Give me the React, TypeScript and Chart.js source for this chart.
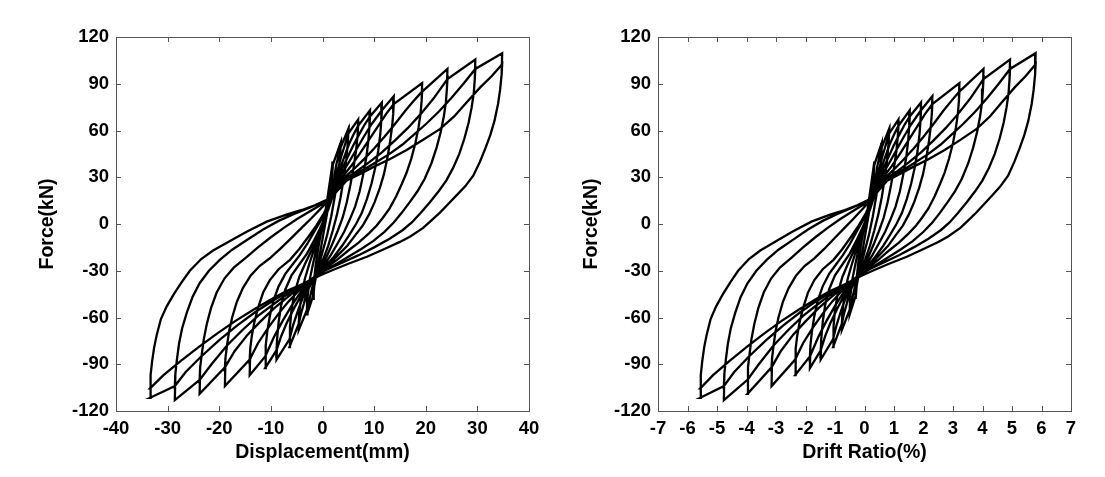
import React, { useEffect, useRef } from "react";
import { Chart, registerables } from "chart.js";
Chart.register(...registerables);

type Pt = [number, number];

// ---- Peak points per loading level (displacement mm, force kN) ----
const posPeak1: Pt[] = [[2.0, 40], [3.5, 52], [5.0, 61], [6.9, 67], [9.2, 73], [11.5, 78], [13.8, 82], [19.3, 90.4], [24.2, 99.5], [29.6, 105.5], [34.8, 109.6]];
const posPeak2: Pt[] = [[2.0, 38], [3.5, 49], [5.0, 58], [6.9, 63], [9.2, 69], [11.5, 73], [13.8, 77], [19.3, 85], [24.2, 93], [29.6, 99.5], [34.8, 102.5]];
const negPeak1: Pt[] = [[-1.8, -48], [-3.0, -58], [-4.6, -68], [-6.4, -79], [-8.9, -87], [-11.1, -92.5], [-14.1, -97], [-18.9, -104], [-23.8, -109], [-28.6, -113], [-33.4, -111.5]];
const negPeak2: Pt[] = [[-1.8, -46], [-3.0, -55], [-4.6, -64], [-6.4, -74], [-8.9, -81], [-11.1, -85], [-14.1, -87], [-18.9, -92], [-23.8, -100], [-28.6, -104], [-33.4, -105.5]];

// ---- Unloading from positive peak down to the negative pinch ----
const unloadPos1: Pt[] = [[1.9, 32], [1.5, 20], [0.9, 7], [0.2, -6], [-0.5, -19], [-1.1, -31], [-1.6, -40]];
const unloadPos2: Pt[] = [[3.4, 43], [3.0, 31], [2.4, 18], [1.7, 5], [0.9, -7], [0.0, -18], [-0.8, -28], [-1.5, -36], [-2.0, -41]];
const unloadPos3: Pt[] = [[4.9, 52], [4.6, 41], [4.1, 29], [3.5, 17], [2.8, 6], [2.0, -4], [1.1, -14], [0.1, -23], [-1.0, -31], [-2.0, -37], [-2.9, -43]];
const unloadPos4: Pt[] = [[6.8, 57], [6.5, 47], [6.0, 36], [5.4, 25], [4.7, 14], [3.9, 4], [3.0, -4], [2.0, -12], [0.8, -21], [-0.5, -29], [-1.7, -35], [-2.8, -40]];
const unloadPos5: Pt[] = [[9.1, 63], [8.9, 54], [8.5, 43], [7.9, 32], [7.2, 21], [6.3, 11], [5.3, 3], [4.2, -5], [3.0, -12], [1.6, -20], [0.2, -27], [-1.2, -33], [-2.4, -37.5], [-3.0, -40]];
const unloadPos6: Pt[] = [[11.4, 67], [11.2, 58], [10.8, 47], [10.2, 36], [9.5, 26], [8.6, 16], [7.6, 7], [6.5, 0], [5.2, -7], [3.8, -14], [2.2, -21], [0.6, -27], [-0.9, -32], [-2.2, -36], [-2.9, -38.5]];
const unloadPos7: Pt[] = [[13.7, 71], [13.5, 63], [13.1, 53], [12.6, 43], [11.9, 32], [11.1, 23], [10.1, 14], [9.0, 6], [7.8, -1], [6.4, -7], [4.8, -14], [3.0, -20], [1.2, -26], [-0.5, -31], [-2.0, -35], [-2.8, -38]];
const unloadPos8: Pt[] = [[19.2, 79], [19.0, 71], [18.6, 62], [18.0, 52], [17.2, 42], [16.3, 33], [15.4, 26], [14.3, 18], [13.0, 10], [11.7, 4], [10.5, -1], [9.0, -6], [7.0, -12], [5.0, -17], [2.8, -23], [0.8, -28], [-1.0, -32.5], [-2.4, -36]];
const unloadPos9: Pt[] = [[24.1, 87], [23.9, 78], [23.5, 69], [22.9, 59], [22.1, 49], [21.1, 39], [19.8, 29], [18.4, 21], [16.9, 14], [15.3, 7], [13.8, 1], [12.0, -5], [9.8, -11], [7.5, -16], [5.0, -21], [2.5, -26], [0.2, -30.5], [-1.5, -34], [-2.5, -36.5]];
const unloadPos10: Pt[] = [[29.5, 93], [29.3, 84], [28.9, 75], [28.3, 65], [27.5, 55], [26.5, 45], [25.3, 36], [24.0, 28], [22.5, 21], [20.8, 14], [19.0, 7], [17.3, 1], [15.5, -4], [13.0, -9.5], [10.0, -15], [7.0, -20], [4.0, -24.5], [1.0, -29], [-1.2, -33], [-2.4, -36]];
const unloadPos11: Pt[] = [[34.7, 96], [34.4, 86], [34.0, 77], [33.3, 66], [32.5, 57], [31.6, 49], [30.5, 40], [29.2, 31], [27.6, 24], [26.0, 18.5], [24.4, 13], [22.8, 7.5], [21.0, 2], [19.5, -2.5], [17.0, -8], [15.0, -11.5], [12.0, -16], [8.6, -21], [5.0, -25.5], [2.0, -29.5], [-0.5, -33], [-2.3, -36]];

// ---- Reloading from the negative pinch towards the negative peak ----
const reloadNeg1: Pt[] = [];
const reloadNeg2: Pt[] = [];
const reloadNeg3: Pt[] = [[-3.6, -51], [-4.2, -58]];
const reloadNeg4: Pt[] = [[-3.8, -47], [-4.8, -56], [-5.7, -65]];
const reloadNeg5: Pt[] = [[-4.0, -45], [-5.5, -54], [-7.0, -64], [-8.0, -72]];
const reloadNeg6: Pt[] = [[-4.3, -44], [-6.0, -52.5], [-7.7, -62], [-9.4, -72.5]];
const reloadNeg7: Pt[] = [[-4.5, -42.5], [-6.5, -49.5], [-8.5, -57.5], [-10.5, -66.5], [-12.5, -76.5]];
const reloadNeg8: Pt[] = [[-4.5, -41], [-7.0, -47.5], [-9.5, -54.5], [-12.0, -62.5], [-14.5, -71], [-17.0, -81.5]];
const reloadNeg9: Pt[] = [[-4.5, -40.5], [-7.0, -45.5], [-9.5, -51.5], [-12.5, -59], [-15.5, -68], [-18.5, -78], [-21.5, -90]];
const reloadNeg10: Pt[] = [[-4.5, -40], [-7.0, -44], [-10.0, -50], [-13.0, -56.5], [-16.5, -65], [-20.0, -74.5], [-23.5, -85], [-26.5, -95]];
const reloadNeg11: Pt[] = [[-4.5, -39.5], [-7.0, -43], [-10.0, -48.5], [-13.4, -55], [-17.0, -62.5], [-20.5, -70.5], [-24.0, -79], [-27.5, -88], [-30.8, -97]];

// ---- Unloading from negative peak up to the positive pinch ----
const unloadNeg1: Pt[] = [[-1.7, -38], [-1.3, -26], [-0.7, -13], [0.0, -1], [0.7, 11], [1.3, 22], [1.8, 31]];
const unloadNeg2: Pt[] = [[-2.9, -47], [-2.5, -36], [-1.8, -25], [-1.0, -13], [-0.1, -1], [0.8, 10], [1.6, 20], [2.3, 30]];
const unloadNeg3: Pt[] = [[-4.5, -57], [-4.1, -46], [-3.4, -35], [-2.5, -25], [-1.5, -15], [-0.5, -5], [0.5, 5], [1.3, 13], [2.0, 20]];
const unloadNeg4: Pt[] = [[-6.3, -66], [-6.0, -55], [-5.4, -44], [-4.5, -34], [-3.3, -25], [-2.0, -16], [-0.8, -7], [0.3, 2], [1.2, 10], [1.9, 17]];
const unloadNeg5: Pt[] = [[-8.8, -74], [-8.5, -63], [-8.0, -52], [-7.2, -42], [-6.0, -33], [-4.5, -26], [-3.0, -19], [-1.7, -11], [-0.5, -3], [0.6, 5], [1.5, 13], [2.0, 18]];
const unloadNeg6: Pt[] = [[-11.0, -78], [-10.7, -69], [-10.2, -59], [-9.5, -49], [-8.5, -40], [-7.2, -32], [-5.8, -26], [-4.4, -20], [-3.0, -13], [-1.6, -5], [-0.2, 3], [1.0, 10.5], [1.8, 16.5]];
const unloadNeg7: Pt[] = [[-14.0, -80], [-13.7, -72], [-13.2, -63], [-12.5, -54], [-11.5, -44], [-10.2, -36], [-8.5, -29], [-6.3, -23], [-4.5, -16], [-2.8, -8.5], [-1.2, -1], [0.3, 7], [1.6, 16]];
const unloadNeg8: Pt[] = [[-18.8, -86], [-18.5, -78], [-18.1, -69], [-17.5, -60], [-16.6, -50], [-15.4, -41], [-13.9, -33], [-12.2, -27], [-10.2, -22], [-8.2, -16], [-6.2, -9.5], [-4.2, -3], [-2.2, 3.5], [-0.3, 10], [1.7, 17]];
const unloadNeg9: Pt[] = [[-23.7, -92], [-23.4, -84], [-23.0, -74], [-22.4, -64], [-21.6, -54], [-20.5, -44], [-19.0, -35], [-17.2, -28], [-15.0, -22], [-12.5, -15], [-10.0, -8.5], [-7.5, -2.5], [-5.0, 3], [-2.5, 8], [-0.2, 12.5], [1.8, 17.5]];
const unloadNeg10: Pt[] = [[-28.5, -96], [-28.2, -87], [-27.8, -77], [-27.2, -67], [-26.3, -57], [-25.2, -47], [-23.8, -38], [-22.0, -30], [-19.9, -23], [-17.5, -16.5], [-14.5, -10], [-11.5, -3.5], [-8.5, 2], [-5.5, 6.5], [-2.5, 10.5], [0.0, 14], [1.8, 17.5]];
const unloadNeg11: Pt[] = [[-33.3, -97], [-33.0, -88], [-32.6, -79], [-32.1, -71], [-31.3, -61], [-30.2, -53], [-28.8, -45], [-27.3, -37.5], [-25.7, -30], [-23.5, -22.5], [-21.2, -17], [-18.0, -11], [-14.7, -5], [-10.8, 1.5], [-7.0, 6], [-4.0, 9], [-1.5, 12], [0.5, 15], [1.8, 17.5]];

// ---- Reloading from the positive pinch towards the positive peak ----
const reloadPos1: Pt[] = [];
const reloadPos2: Pt[] = [[2.6, 37], [3.1, 44]];
const reloadPos3: Pt[] = [[2.8, 33], [3.6, 43], [4.4, 51.5]];
const reloadPos4: Pt[] = [[3.0, 32], [4.1, 42], [5.1, 51], [6.1, 58]];
const reloadPos5: Pt[] = [[3.3, 32], [4.6, 41], [5.9, 50], [7.1, 57.5], [8.2, 64]];
const reloadPos6: Pt[] = [[3.5, 31], [5.0, 39], [6.5, 47.5], [8.0, 56], [9.5, 64], [10.6, 69]];
const reloadPos7: Pt[] = [[3.8, 30], [5.5, 37], [7.2, 45], [9.0, 54], [10.7, 62.5], [12.3, 70.5]];
const reloadPos8: Pt[] = [[4.0, 29], [6.0, 35], [8.0, 41.5], [10.0, 48.5], [12.0, 56], [14.0, 64], [16.0, 72.5], [17.8, 79.5]];
const reloadPos9: Pt[] = [[4.3, 28.5], [6.5, 33.5], [9.0, 39.5], [11.5, 46], [14.0, 53.5], [16.5, 61.5], [19.0, 70.5], [21.5, 80.5]];
const reloadPos10: Pt[] = [[4.5, 28], [7.0, 33], [9.8, 38.5], [13.0, 45], [15.5, 51], [17.6, 57], [20.0, 64], [22.5, 72], [25.0, 81], [27.3, 90]];
const reloadPos11: Pt[] = [[4.7, 28], [7.5, 32.5], [9.8, 36.5], [13.0, 41.5], [16.3, 47.5], [19.5, 54], [22.8, 61], [25.5, 69], [27.9, 78], [30.5, 87.5], [32.8, 95]];

const startPoint: Pt = [0, -5];
const STORY_HEIGHT_MM = 600; // drift ratio (%) = displacement / height * 100

const dispTicksStep = 10;
const driftTicksStep = 1;
const forceTicksStep = 30;

const unloadPos = [unloadPos1, unloadPos2, unloadPos3, unloadPos4, unloadPos5, unloadPos6, unloadPos7, unloadPos8, unloadPos9, unloadPos10, unloadPos11];
const reloadNeg = [reloadNeg1, reloadNeg2, reloadNeg3, reloadNeg4, reloadNeg5, reloadNeg6, reloadNeg7, reloadNeg8, reloadNeg9, reloadNeg10, reloadNeg11];
const unloadNeg = [unloadNeg1, unloadNeg2, unloadNeg3, unloadNeg4, unloadNeg5, unloadNeg6, unloadNeg7, unloadNeg8, unloadNeg9, unloadNeg10, unloadNeg11];
const reloadPos = [reloadPos1, reloadPos2, reloadPos3, reloadPos4, reloadPos5, reloadPos6, reloadPos7, reloadPos8, reloadPos9, reloadPos10, reloadPos11];

function buildPath(): Pt[] {
  const path: Pt[] = [startPoint];
  const n = posPeak1.length;
  for (let k = 0; k < n; k++) {
    if (k > 0) path.push(...reloadPos[k - 1], posPeak2[k - 1]);
    path.push(posPeak1[k], ...unloadPos[k]);
    if (k > 0) path.push(...reloadNeg[k - 1], negPeak2[k - 1]);
    path.push(negPeak1[k], ...unloadNeg[k], ...reloadPos[k], posPeak2[k], ...unloadPos[k], ...reloadNeg[k], negPeak2[k], ...unloadNeg[k]);
  }
  path.push(...reloadPos[n - 1], posPeak2[n - 1]);
  return path;
}

const FONT = "'Liberation Sans', Arial, Helvetica, sans-serif";

const framePlugin = {
  id: "frameTicks",
  afterDatasetsDraw(chart: any) {
    const { ctx, chartArea: a, scales } = chart;
    ctx.save();
    ctx.strokeStyle = "#555";
    ctx.lineWidth = 1;
    ctx.strokeRect(Math.round(a.left) + 0.5, Math.round(a.top) + 0.5, Math.round(a.right - a.left), Math.round(a.bottom - a.top));
    const L = 5;
    ctx.beginPath();
    scales.x.ticks.forEach((t: any) => {
      const px = Math.round(scales.x.getPixelForValue(t.value)) + 0.5;
      ctx.moveTo(px, a.bottom);
      ctx.lineTo(px, a.bottom - L);
      ctx.moveTo(px, a.top);
      ctx.lineTo(px, a.top + L);
    });
    scales.y.ticks.forEach((t: any) => {
      const py = Math.round(scales.y.getPixelForValue(t.value)) + 0.5;
      ctx.moveTo(a.left, py);
      ctx.lineTo(a.left + L, py);
      ctx.moveTo(a.right, py);
      ctx.lineTo(a.right - L, py);
    });
    ctx.stroke();
    ctx.restore();
  },
};

interface PanelProps {
  left: number;
  width: number;
  yAxisWidth: number;
  padRight: number;
  yTitlePad: number;
  xMin: number;
  xMax: number;
  xStep: number;
  xTitle: string;
  points: Pt[];
}

function Panel(p: PanelProps) {
  const ref = useRef<HTMLCanvasElement>(null);
  useEffect(() => {
    if (!ref.current) return;
    const chart = new Chart(ref.current, {
      type: "scatter",
      data: {
        datasets: [
          {
            data: p.points.map(([x, y]) => ({ x, y })),
            showLine: true,
            borderColor: "#000",
            borderWidth: 2.3,
            pointRadius: 0,
            tension: 0,
            fill: false,
          },
        ],
      },
      options: {
        responsive: false,
        animation: false,
        events: [],
        layout: { padding: { left: 0, top: 37, right: p.padRight, bottom: 0 } },
        plugins: { legend: { display: false }, tooltip: { enabled: false } },
        scales: {
          x: {
            type: "linear",
            min: p.xMin,
            max: p.xMax,
            ticks: { stepSize: p.xStep, color: "#000", padding: 7, font: { family: FONT, size: 18.5, weight: "bold" } },
            grid: { display: false, drawTicks: false },
            border: { display: false },
            title: { display: true, text: p.xTitle, color: "#000", font: { family: FONT, size: 19.5, weight: "bold" }, padding: { top: 0, bottom: 13 } },
            afterFit: (s: any) => { s.height = 66; },
          },
          y: {
            type: "linear",
            min: -120,
            max: 120,
            ticks: { stepSize: forceTicksStep, color: "#000", padding: 7, font: { family: FONT, size: 18.5, weight: "bold" } },
            grid: { display: false, drawTicks: false },
            border: { display: false },
            title: { display: true, text: "Force(kN)", color: "#000", font: { family: FONT, size: 19.5, weight: "bold" }, padding: { top: p.yTitlePad, bottom: 0 } },
            afterFit: (s: any) => { s.width = p.yAxisWidth; },
          },
        },
      },
      plugins: [framePlugin],
    } as any);
    return () => chart.destroy();
  }, []);
  return (
    <canvas
      ref={ref}
      width={p.width}
      height={477}
      style={{ position: "absolute", left: p.left, top: 0, width: p.width, height: 477, display: "block" }}
    />
  );
}

export default function App() {
  const path = buildPath();
  const driftPath: Pt[] = path.map(([d, f]) => [(d / STORY_HEIGHT_MM) * 100, f]);
  return (
    <div style={{ position: "fixed", left: 0, top: 0, width: 1105, height: 477, background: "#fff" }}>
      <Panel left={0} width={552} yAxisWidth={116} padRight={23} yTitlePad={36} xMin={-40} xMax={40} xStep={dispTicksStep} xTitle="Displacement(mm)" points={path} />
      <Panel left={552} width={553} yAxisWidth={106} padRight={34} yTitlePad={28} xMin={-7} xMax={7} xStep={driftTicksStep} xTitle="Drift Ratio(%)" points={driftPath} />
    </div>
  );
}
